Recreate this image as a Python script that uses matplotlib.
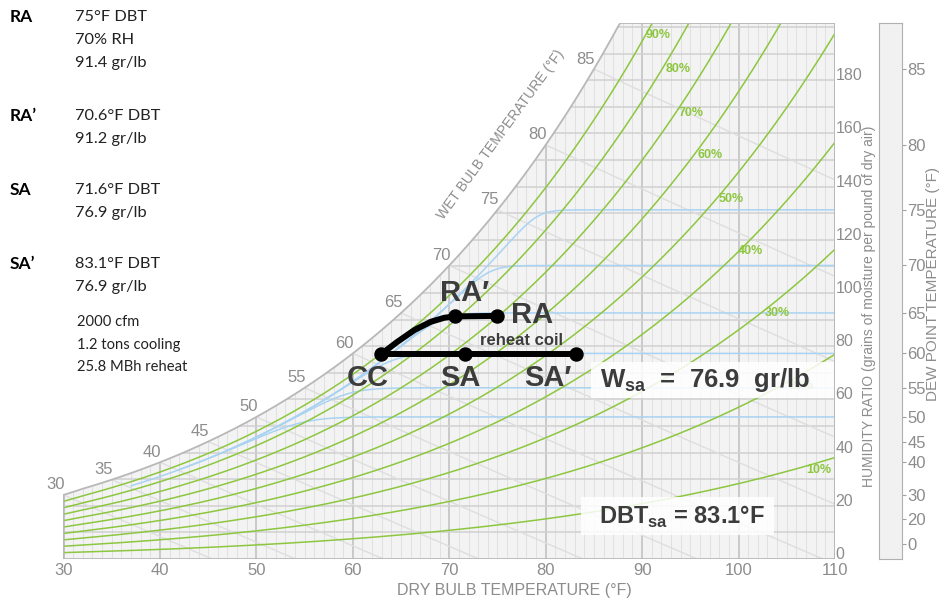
import numpy as np
import matplotlib
matplotlib.use("Agg")
import matplotlib.pyplot as plt
from matplotlib.patches import Polygon, Rectangle

plt.rcParams["mathtext.fontset"] = "custom"
plt.rcParams["mathtext.rm"] = "Liberation Sans"
plt.rcParams["mathtext.bf"] = "Liberation Sans:bold"

NARROW = ["Liberation Sans Narrow", "Liberation Sans", "DejaVu Sans"]
BOLD = ["Liberation Sans", "DejaVu Sans"]
LEFT = ["Lato", "DejaVu Sans"]

# process states: dry bulb (°F) and humidity ratio (gr/lb)
STATE_NAMES = ["RA", "RA′", "CC", "SA", "SA′"]
STATE_DBT = [75.0, 70.6, 62.9, 71.6, 83.1]
STATE_W = [91.4, 91.2, 76.9, 76.9, 76.9]

# cooling coil path CC -> RA'
COIL_DBT = [62.9, 64.6, 66.4, 68.1, 69.5, 70.6]
COIL_W = [76.9, 81.6, 86.1, 89.2, 90.7, 91.2]

RH_LEVELS = [10, 20, 30, 40, 50, 60, 70, 80, 90]
RH_LABEL_T = [108.3, 106.5, 104.0, 101.2, 99.2, 97.0, 95.1, 93.7, 91.7]
RH_LABEL_W = [33.5, 65.0, 92.5, 115.8, 135.3, 151.9, 167.7, 184.2, 196.9]

WB_TEMPS = [30, 35, 40, 45, 50, 55, 60, 65, 70, 75, 80, 85]
DP_LINES = [50, 55, 60, 65, 70, 75]
DP_TICKS = [0, 20, 30, 40, 45, 50, 55, 60, 65, 70, 75, 80, 85]

SUMMARY = [
    ("RA", ["75°F DBT", "70% RH", "91.4 gr/lb"]),
    ("RA’", ["70.6°F DBT", "91.2 gr/lb"]),
    ("SA", ["71.6°F DBT", "76.9 gr/lb"]),
    ("SA’", ["83.1°F DBT", "76.9 gr/lb"]),
]
NOTES = ["2000 cfm", "1.2 tons cooling", "25.8 MBh reheat"]

T_MIN, T_MAX = 30, 110
W_TOP = 201.5
P_ATM = 14.696


def p_sat(t):
    # saturation pressure (psia), Hyland-Wexler, ice below 32°F
    t = np.asarray(t, float)
    T = t + 459.67
    ice = (-1.0214165e4 / T - 4.8932428 - 5.3765794e-3 * T + 1.9202377e-7 * T**2
           + 3.5575832e-10 * T**3 - 9.0344688e-14 * T**4 + 4.1635019 * np.log(T))
    water = (-1.0440397e4 / T - 1.1294650e1 - 2.7022355e-2 * T + 1.2890360e-5 * T**2
             - 2.4780681e-9 * T**3 + 6.5459673 * np.log(T))
    return np.exp(np.where(t < 32, ice, water))


def grains(pw):
    return 7000 * 0.621945 * pw / (P_ATM - pw)


def w_sat(t):
    return grains(p_sat(t))


fig = plt.figure(figsize=(9.45, 6.04), dpi=100)
ax = fig.add_axes([63.5 / 945, 45 / 604, (835 - 63.5) / 945, (559 - 23) / 604])
ax_dp = fig.add_axes([879 / 945, 45 / 604, 23 / 945, (559 - 23) / 604])
ax.set_zorder(3)
ax.patch.set_visible(False)
ax.set_xlim(T_MIN, T_MAX)
ax.set_ylim(0, W_TOP)

# chart body under the saturation curve
tt = np.linspace(T_MIN, T_MAX, 400)
top = np.minimum(w_sat(tt), W_TOP)
verts = [(T_MIN, 0)] + list(zip(tt, top)) + [(T_MAX, 0)]
body = Polygon(verts, closed=True, fc="#f3f3f3", ec="none", zorder=0)
ax.add_patch(body)

grid = []
for t in range(T_MIN, T_MAX + 1):
    major = t % 10 == 0
    grid.append(ax.plot([t, t], [0, W_TOP], color="#c6c6c6" if major else "#e0e0e0",
                        lw=1.3 if major else 0.7, zorder=1)[0])
for w in range(10, 201, 10):
    grid.append(ax.plot([T_MIN, T_MAX], [w, w], color="#d0d0d0", lw=1.1, zorder=1)[0])

# wet bulb lines
for twb in WB_TEMPS:
    t = np.linspace(twb, T_MAX, 200)
    ws = w_sat(twb) / 7000
    w = ((1093 - 0.556 * twb) * ws - 0.240 * (t - twb)) / (1093 + 0.444 * t - twb) * 7000
    grid.append(ax.plot(t, w, color="#dedede", lw=1.0, zorder=1)[0])

# dew point lines
for td in DP_LINES:
    wd = w_sat(td)
    t = np.linspace(td - 13, T_MAX, 300)
    ws = w_sat(t - 4)
    k = 4.0
    w = -k * np.log(np.exp(-(ws - wd) / k) + 1) + wd
    grid.append(ax.plot(t, w, color="#a9d3f2", lw=1.1, zorder=2)[0])

# relative humidity lines
for rh in RH_LEVELS:
    w = grains(rh / 100 * p_sat(tt))
    grid.append(ax.plot(tt, w, color="#8dc63f", lw=1.1, zorder=2)[0])
for rh, lt, lw_ in zip(RH_LEVELS, RH_LABEL_T, RH_LABEL_W):
    ax.text(lt, lw_, f"{rh}%", color="#8dc63f", fontsize=9, fontweight="bold",
            family=BOLD, ha="center", va="center", zorder=2)

for ln in grid:
    ln.set_clip_path(body)

# chart outline
outline = Polygon(verts, closed=True, fc="none", ec="#b8b8b8", lw=1.3, zorder=2)
ax.add_patch(outline)

for twb in WB_TEMPS:
    ax.annotate(str(twb), (twb, w_sat(twb)), xytext=(-5.8, 7.2), textcoords="offset points",
                ha="center", va="center", fontsize=12, color="#8c8c8c", family=NARROW)
ax.text(75.3, 159.5, "WET BULB TEMPERATURE (°F)", rotation=54, rotation_mode="anchor",
        ha="center", va="center", fontsize=10, color="#8c8c8c", family=NARROW)

# axes ticks
for s in ax.spines.values():
    s.set_visible(False)
ax.set_xticks(range(30, 111, 10))
ax.tick_params(axis="x", length=0, pad=3, labelsize=12, labelcolor="#8c8c8c")
ax.yaxis.tick_right()
ax.set_yticks(range(0, 181, 20))
ax.tick_params(axis="y", length=0, pad=0.5, labelsize=11.5, labelcolor="#8c8c8c")
for lbl in ax.get_xticklabels() + ax.get_yticklabels():
    lbl.set_family(NARROW)
for lbl in ax.get_yticklabels():
    lbl.set_va("baseline")
fig.text(514 / 945, 1 - 590 / 604, "DRY BULB TEMPERATURE (°F)", ha="center", va="center",
         fontsize=11.5, color="#8c8c8c", family=NARROW)
fig.text(869 / 945, 1 - 306 / 604, "HUMIDITY RATIO (grains of moisture per pound of dry air)",
         rotation=90, ha="center", va="center", fontsize=10, color="#8c8c8c", family=NARROW)

# dew point scale
ax_dp.set_ylim(0, W_TOP)
ax_dp.set_xlim(0, 1)
ax_dp.set_facecolor("#f1f1f1")
for s in ax_dp.spines.values():
    s.set_color("#b0b0b0")
ax_dp.set_xticks([])
ax_dp.yaxis.tick_right()
ax_dp.set_yticks(w_sat(np.array(DP_TICKS)))
ax_dp.set_yticklabels([str(d) for d in DP_TICKS])
ax_dp.tick_params(axis="y", length=3, width=0.8, color="#a0a0a0", pad=1, labelsize=12,
                  labelcolor="#8c8c8c")
for lbl in ax_dp.get_yticklabels():
    lbl.set_family(NARROW)
fig.text(933 / 945, 1 - 284 / 604, "DEW POINT TEMPERATURE (°F)", rotation=90, ha="center",
         va="center", fontsize=11, color="#8c8c8c", family=NARROW)

# process lines
DARK = "#3c3c3c"
pt = dict(zip(STATE_NAMES, zip(STATE_DBT, STATE_W)))
ax.plot(COIL_DBT, COIL_W, color="black", lw=4.3, solid_capstyle="round",
        solid_joinstyle="round", zorder=6)
ax.plot([pt["RA′"][0], pt["RA"][0]], [pt["RA′"][1], pt["RA"][1]], color="black", lw=4.3, zorder=6)
ax.plot([pt["CC"][0], pt["SA′"][0]], [pt["CC"][1], pt["SA′"][1]], color="black", lw=4.3, zorder=6)

dots = dict(color="#666666", lw=3.6, linestyle=(0, (0, 2.65)), dash_capstyle="round", zorder=5)
sx, sw = pt["SA′"]
ax.plot([sx, sx], [sw, 4.1], **dots)
ax.plot([sx, 116.7], [sw, sw], clip_on=False, **dots)

ax.plot(STATE_DBT, STATE_W, "o", color="black", ms=9.4, zorder=7)

offsets = {"RA′": (7, 16.5), "RA": (25, 0.5), "CC": (-9.5, -17), "SA": (-3, -17), "SA′": (-20, -17)}
for name in STATE_NAMES:
    ax.annotate(name, pt[name], xytext=offsets[name], textcoords="offset points",
                ha="center", va="center", fontsize=21, fontweight="bold", color=DARK,
                family=BOLD, zorder=8)
ax.text(77.5, 82.0, "reheat coil", ha="center", va="center", fontsize=12,
        fontweight="bold", color=DARK, family=BOLD, zorder=8)

# callout boxes
ax.add_patch(Rectangle((84.7, 60.5), 25.2, 13.6, fc="white", ec="none", alpha=0.85, zorder=4))
ax.text(85.6, 67.3, r"$\mathbf{W}_{\mathbf{sa}}$  =  76.9  gr/lb", ha="left", va="center",
        fontsize=18.5, fontweight="bold", color=DARK, family=BOLD, zorder=8)
ax.add_patch(Rectangle((83.7, 9.0), 20.0, 14.3, fc="white", ec="none", alpha=0.85, zorder=4))
ax.text(85.5, 15.8, r"$\mathbf{DBT}_{\mathbf{sa}}$ = 83.1°F", ha="left", va="center",
        fontsize=17, fontweight="bold", color=DARK, family=BOLD, zorder=8)

# state summary on the left
y = 17
for name, lines in SUMMARY:
    fig.text(10 / 945, 1 - y / 604, name, ha="left", va="center", fontsize=12.5,
             fontweight="bold", color="black", family=LEFT)
    for i, s in enumerate(lines):
        fig.text(75 / 945, 1 - (y + 23 * i) / 604, s, ha="left", va="center", fontsize=11.8,
                 color="#222222", family=LEFT)
    y += 23 * len(lines) + (30 if len(lines) == 3 else 28)
for i, s in enumerate(NOTES):
    fig.text(77 / 945, 1 - (322 + 22.5 * i) / 604, s, ha="left", va="center", fontsize=10.6,
             color="#222222", family=LEFT)

fig.savefig("out.png", dpi=100)
